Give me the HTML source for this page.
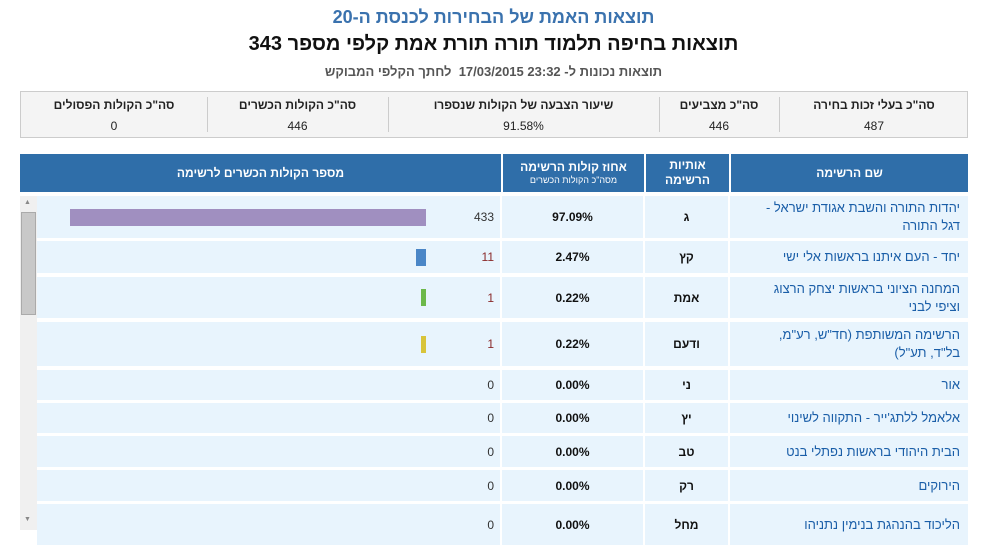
<!DOCTYPE html>
<html><head><meta charset="utf-8"><style>
*{margin:0;padding:0;box-sizing:border-box}
body{width:987px;height:553px;overflow:hidden;background:#fff;font-family:"Liberation Sans","Noto Sans CJK SC",sans-serif;position:relative;direction:rtl}
.a{position:absolute}
.t{left:0;width:987px;text-align:center}
.stat{position:absolute;top:91px;left:20px;width:948px;height:47px;background:#f4f4f4;border:1px solid #ccc}
.sc{position:absolute;top:0;height:45px;text-align:center;font-size:12px;color:#222}
.sc b{display:block;margin-top:6px;font-size:12px}
.sc span{display:block;margin-top:7px}
.sep{position:absolute;top:5px;width:1px;height:35px;background:#ccc}
.hd{position:absolute;top:154px;height:38px;background:#2f6ea9;color:#fff;font-weight:bold;font-size:12px;text-align:center;display:flex;flex-direction:column;justify-content:center;line-height:15px}
.row{position:absolute;left:37px;width:931px;background:#e8f4fd}
.c{position:absolute;top:0;height:100%;display:flex;align-items:center}
.nm{left:693px;width:238px;color:#1a5ea8;font-size:13px;padding-right:8px;padding-left:20px;line-height:18px}
.lt{left:608px;width:83px;justify-content:center;font-weight:bold;font-size:12px;color:#111}
.pc{left:465px;width:141px;justify-content:center;font-weight:bold;font-size:12px;color:#111}
.num{font-size:12px;color:#333;position:absolute;top:0;height:100%;display:flex;align-items:center}
</style></head><body>
<div class="a t" style="top:7px;font-size:18px;font-weight:bold;color:#3a72ae">תוצאות האמת של הבחירות לכנסת ה-20</div>
<div class="a t" style="top:33px;font-size:20px;font-weight:bold;color:#111">תוצאות בחיפה תלמוד תורה תורת אמת קלפי מספר 343</div>
<div class="a t" style="top:64px;font-size:13px;font-weight:bold;color:#555">תוצאות נכונות ל- 23:32 17/03/2015 &nbsp;לחתך הקלפי המבוקש</div>
<div class="stat">
<div class="sc" style="left:758px;width:190px"><b>סה"כ בעלי זכות בחירה</b><span>487</span></div>
<div class="sep" style="left:758px"></div>
<div class="sc" style="left:638px;width:120px"><b>סה"כ מצביעים</b><span>446</span></div>
<div class="sep" style="left:638px"></div>
<div class="sc" style="left:367px;width:271px"><b>שיעור הצבעה של הקולות שנספרו</b><span>91.58%</span></div>
<div class="sep" style="left:367px"></div>
<div class="sc" style="left:186px;width:181px"><b>סה"כ הקולות הכשרים</b><span>446</span></div>
<div class="sep" style="left:186px"></div>
<div class="sc" style="left:0;width:186px"><b>סה"כ הקולות הפסולים</b><span>0</span></div>
</div>
<div class="hd" style="left:731px;width:237px">שם הרשימה</div>
<div class="hd" style="left:646px;width:83px">אותיות<br>הרשימה</div>
<div class="hd" style="left:503px;width:141px">אחוז קולות הרשימה<span style="font-size:9px;font-weight:normal;line-height:11px">מסה"כ הקולות הכשרים</span></div>
<div class="hd" style="left:20px;width:481px">מספר הקולות הכשרים לרשימה</div>
<div class="a" style="left:20px;top:196px;width:17px;height:334px;background:#f0f0f0"></div>
<div class="a" style="left:21px;top:212px;width:15px;height:103px;background:#c8c8c8;border:1px solid #aaa"></div>
<div class="a" style="left:24px;top:199px;font-size:7px;color:#888">▲</div>
<div class="a" style="left:24px;top:516px;font-size:7px;color:#888">▼</div>
<div id="rows"></div>
<script>
var R=[[196,238,"יהדות התורה והשבת אגודת ישראל - דגל התורה","ג","97.09%","433",356,"#a08fc0","#333"],
[241,273,"יחד - העם איתנו בראשות אלי ישי","קץ","2.47%","11",10,"#4a86c7","#8a2a2a"],
[277,318,"המחנה הציוני בראשות יצחק הרצוג וציפי לבני","אמת","0.22%","1",5,"#6cb84a","#8a2a2a"],
[322,366,"הרשימה המשותפת (חד\"ש, רע\"מ, בל\"ד, תע\"ל)","ודעם","0.22%","1",5,"#d8c43a","#8a2a2a"],
[370,400,"אור","ני","0.00%","0",0],
[403,433,"אלאמל ללתג'ייר - התקווה לשינוי","יץ","0.00%","0",0],
[436,467,"הבית היהודי בראשות נפתלי בנט","טב","0.00%","0",0],
[470,501,"הירוקים","רק","0.00%","0",0],
[504,545,"הליכוד בהנהגת בנימין נתניהו","מחל","0.00%","0",0]];
var h="";R.forEach(function(r){
var H=r[1]-r[0];
h+='<div class="row" style="top:'+r[0]+'px;height:'+H+'px">'+
'<div class="c nm">'+r[2]+'</div><div class="c lt">'+r[3]+'</div><div class="c pc">'+r[4]+'</div>'+
'<div class="a" style="left:463px;top:0;width:2px;height:100%;background:#fff"></div><div class="a" style="left:606px;top:0;width:2px;height:100%;background:#fff"></div><div class="a" style="left:691px;top:0;width:2px;height:100%;background:#fff"></div>'+
'<div class="num" style="right:'+(931-457)+'px;color:'+(r[8]||'#333')+'">'+r[5]+'</div>'+
(r[6]?'<div class="a" style="left:'+(389-r[6])+'px;top:'+((H-17)/2)+'px;width:'+r[6]+'px;height:17px;background:'+r[7]+'"></div>':'')+
'</div>';
h+='<div class="a" style="left:37px;top:'+(r[1]+1)+'px;width:931px;height:2px;background:#fff"></div>';
});
document.getElementById("rows").innerHTML=h;
</script>
</body></html>
